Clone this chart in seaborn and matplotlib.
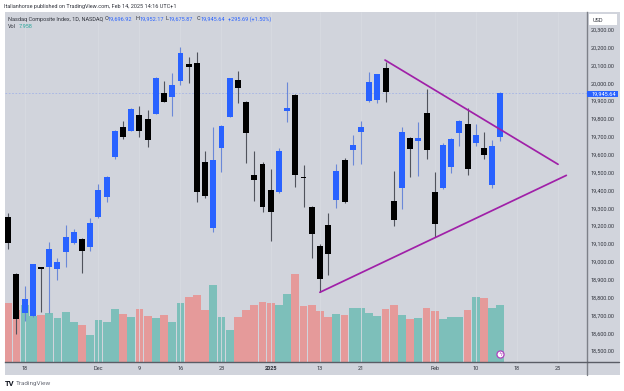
import pandas as pd
import seaborn as sns
import matplotlib.pyplot as plt
from matplotlib.patches import Rectangle

# daily candles
open_px = [19252, 18931, 18715, 18696, 18971, 18969, 18961, 19053, 19106, 19129, 19084, 19252, 19361, 19585, 19753, 19734,
           19823, 19798, 19829, 19945, 19923, 20014, 20106, 20111, 19560, 19187, 19637, 19812, 20018, 19893, 19486, 19549,
           19400, 19390, 19846, 19937, 19476, 19308, 19086, 19204, 19346, 19571, 19626, 19728, 19899, 19904, 20083, 19338,
           19414, 19691, 19678, 19831, 19389, 19414, 19529, 19723, 19771, 19665, 19639, 19431, 19696.92]
high_px = [19273, 18935, 18864, 18990, 18973, 19109, 19022, 19206, 19183, 19131, 19243, 19434, 19480, 19738, 19788, 19859,
           19872, 19850, 20035, 20014, 20055, 20201, 20145, 20176, 19620, 19756, 19766, 20030, 20068, 19900, 19620, 19560,
           19518, 19635, 20005, 19940, 19542, 19312, 19097, 19271, 19547, 19579, 19710, 19788, 20064, 20052, 20117, 19510,
           19756, 19699, 19784, 19966, 19501, 19663, 19695, 19794, 19859, 19770, 19728, 19682, 19952.17]
low_px = [19073, 18595, 18670, 18688, 18720, 18713, 18899, 18969, 19099, 18935, 19062, 19247, 19336, 19574, 19687, 19732,
          19697, 19641, 19825, 19894, 19816, 19988, 20003, 19336, 19357, 19168, 19504, 19811, 19887, 19555, 19340, 19280,
          19116, 19383, 19781, 19420, 19308, 19019, 18829, 18925, 19299, 19329, 19542, 19549, 19896, 19887, 19896, 19202,
          19293, 19476, 19482, 19574, 19137, 19406, 19497, 19650, 19486, 19648, 19577, 19415, 19675.87]
close_px = [19105, 18678, 18790, 18986, 18960, 19071, 19000, 19137, 19168, 19058, 19215, 19400, 19476, 19732, 19697, 19855,
            19732, 19682, 20031, 19896, 19990, 20167, 20091, 19389, 19370, 19568, 19760, 20027, 19973, 19719, 19456, 19308,
            19278, 19618, 19861, 19487, 19467, 19155, 18901, 19041, 19508, 19334, 19654, 19753, 20005, 20050, 19949, 19232,
            19729, 19630, 19695, 19624, 19211, 19652, 19689, 19790, 19519, 19711, 19599, 19646, 19945.64]

# volume in billions and bar colour group
volume = [8.24, 7.30, 8.00, 6.46, 6.65, 6.88, 6.18, 6.97, 5.66, 5.15, 3.84, 5.85, 5.62, 7.39, 6.79, 6.36,
          7.39, 6.41, 6.18, 6.55, 5.62, 8.33, 9.08, 9.36, 7.30, 10.76, 6.36, 4.49, 6.27, 7.30, 8.05, 8.38,
          8.33, 7.96, 9.50, 12.31, 7.86, 8.05, 7.21, 6.36, 6.79, 6.60, 7.58, 7.58, 6.93, 6.46, 7.44, 7.96,
          6.55, 6.04, 6.18, 7.58, 7.21, 5.99, 6.32, 6.36, 7.35, 9.13, 8.99, 7.58, 7.958]
vol_dir = list('dduuduuuud' 'uuuududdud' 'uuddduuudd' 'ddduuddddd' 'uduuuuddud' 'udduuududuu')

tick_pos = [2, 11, 16, 21, 26, 32, 38, 43, 52, 57, 62, 67]
tick_labels = ['18', 'Dec', '9', '16', '23', '2025', '13', '21', 'Feb', '10', '18', '25']
price_ticks = list(range(18500, 20301, 100))

# purple triangle drawn on the chart
upper_x = [45.94, 67.04]
upper_y = [20130, 19546]
lower_x = [38.0, 68.05]
lower_y = [18829, 19484]
last_close = 19945.64

BG = '#d1d4dc'
BLUE = '#2962ff'
W, H = 624, 391
FS = 3.95

sns.set_theme(style='white')
plt.rcParams['font.family'] = ['Roboto', 'DejaVu Sans']

fig = plt.figure(figsize=(W / 100, H / 100), dpi=100, facecolor='white')
fig.add_artist(Rectangle((5 / W, 1 - 375 / H), 614.5 / W, 362.7 / H, transform=fig.transFigure, color=BG, lw=0, zorder=-1))

rect = [5 / W, 1 - 362 / H, 582 / W, 349.7 / H]
ax_vol = fig.add_axes(rect, facecolor=BG)
ax = fig.add_axes(rect, facecolor='none')

# Volume underneath
df_vol = pd.DataFrame({'day': range(len(volume)), 'volume': volume, 'dir': vol_dir})
sns.barplot(data=df_vol, x='day', y='volume', hue='dir', dodge=False, native_scale=True, width=0.95, saturation=1,
            linewidth=0, palette={'u': '#7dbfba', 'd': '#e59a9a'}, legend=False, ax=ax_vol)
ax_vol.set_xlim(-0.4, 70.57)
ax_vol.set_ylim(0, 49.1)
ax_vol.set_xticks([])
ax_vol.set_yticks([])
ax_vol.set_xlabel('')
ax_vol.set_ylabel('')
for s in ax_vol.spines.values():
    s.set_visible(False)

# Candles
for i in range(len(open_px)):
    up = close_px[i] >= open_px[i]
    ax.vlines(i, low_px[i], high_px[i], color='#6a88d8' if up else '#50535c', lw=0.8, zorder=3)
    ax.bar(i, abs(close_px[i] - open_px[i]), bottom=min(open_px[i], close_px[i]), width=0.73,
           color=BLUE if up else 'black', lw=0, zorder=4)

ax.axhline(last_close, color='#a3b3e6', lw=0.6, ls=(0, (2, 2)), zorder=2)

# Trend lines
df_up = pd.DataFrame({'x': upper_x, 'y': upper_y})
df_lo = pd.DataFrame({'x': lower_x, 'y': lower_y})
sns.lineplot(data=df_up, x='x', y='y', color='#a020a8', lw=1.25, ax=ax, zorder=5)
sns.lineplot(data=df_lo, x='x', y='y', color='#a020a8', lw=1.25, ax=ax, zorder=5)

ax.set_xlim(-0.4, 70.57)
ax.set_ylim(18438.5, 20397.5)
ax.set_xlabel('')
ax.set_ylabel('')
ax.yaxis.tick_right()
ax.set_yticks(price_ticks)
ax.set_yticklabels([f'{p:,.2f}' for p in price_ticks], fontsize=FS, color='#30333c')
ax.set_xticks(tick_pos)
ax.set_xticklabels(tick_labels, fontsize=FS, color='#30333c')
ax.get_xticklabels()[5].set_fontweight('bold')
ax.tick_params(axis='both', length=0, pad=2.8)
ax.grid(axis='x', color='#d7dae1', lw=0.6)
ax.set_axisbelow(True)
for name in ['top', 'left']:
    ax.spines[name].set_visible(False)
ax.spines['right'].set_color('#7d8088')
ax.spines['right'].set_linewidth(1.0)
ax.spines['bottom'].set_color('#5a5d66')
ax.spines['bottom'].set_linewidth(1.0)
# price axis line runs on through the time strip
fig.add_artist(plt.Line2D([587 / W, 587 / W], [1 - 375 / H, 1 - 362 / H], color='#7d8088', lw=1.0))
fig.add_artist(plt.Line2D([587 / W, 619 / W], [1 - 362 / H, 1 - 362 / H], color='#5a5d66', lw=1.0))


def label(x, y, s, **kw):
    kw.setdefault('fontsize', FS)
    kw.setdefault('va', 'center')
    fig.text(x / W, 1 - y / H, s, **kw)


# Header
label(4, 6.5, 'Italianhorse published on TradingView.com, Feb 14, 2025 14:16 UTC+1', color='#30333c')
label(8, 19, 'Nasdaq Composite Index, 1D, NASDAQ', color='#30333c')
for x, s, c in [(104.3, 'O', '#30333c'), (107.7, '19,696.92', BLUE), (135.6, 'H', '#30333c'), (139.3, '19,952.17', BLUE),
                (165.7, 'L', '#30333c'), (168.3, '19,675.87', BLUE), (196.7, 'C', '#30333c'), (200, '19,945.64', BLUE),
                (227.7, '+295.69 (+1.50%)', BLUE)]:
    label(x, 19, s, color=c)
label(8, 27, 'Vol', color='#30333c')
label(18.5, 27, '7.958', color='#26a69a')

# Boxes on the price scale
fig.add_artist(Rectangle((589 / W, 1 - 25.3 / H), 28 / W, 11.3 / H, transform=fig.transFigure, color='white', lw=0))
label(592.5, 20, 'USD', color='#30333c')
fig.add_artist(Rectangle((587 / W, 1 - 97 / H), 30.5 / W, 6.5 / H, transform=fig.transFigure, color=BLUE, lw=0))
label(591, 93.8, '19,945.64', color='white')

# Event marker on the last bar
ax_vol.scatter([60], [1.1], s=26, facecolor='white', edgecolor='#b040c0', lw=0.9, zorder=6, clip_on=False)
ax_vol.text(60, 1.1, 'ϟ', fontsize=4.5, color='#b040c0', ha='center', va='center', zorder=7)

# Footer
label(4.5, 383, 'TV', fontsize=5.5, fontweight='bold', color='#131722')
label(15.5, 383, 'TradingView', fontsize=4.6, color='#6a6d78')

plt.savefig('out.png', dpi=100)
